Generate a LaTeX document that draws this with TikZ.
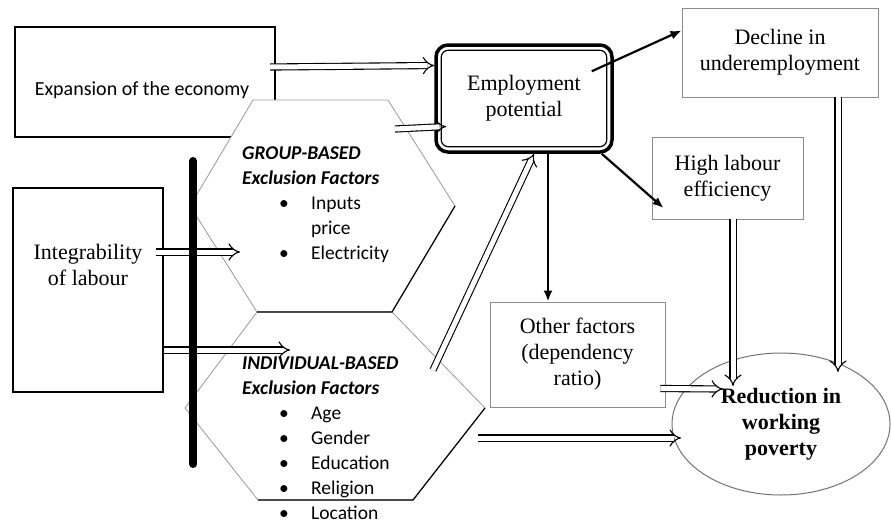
\documentclass[tikz,border=0pt]{standalone}
\usepackage{fontspec}
\setmainfont{Liberation Serif}
\newfontfamily\calibrifont{Carlito}
\usetikzlibrary{arrows.meta,shapes.geometric}

\newcommand{\serifsize}{\fontsize{22}{26}\selectfont}
\newcommand{\hexitem}[1]{\hspace*{37pt}\makebox[32pt][l]{\textbullet}#1}

\begin{document}
\begin{tikzpicture}[x=1pt, y=-1pt,
  thickbox/.style={draw, line width=2.4pt, inner sep=0pt},
  greybox/.style={draw=black!45, line width=0.9pt, font=\serifsize, align=center},
  hexline/.style={draw=black!40, line width=0.8pt, fill=white},
  hextxt/.style={font=\calibrifont\fontsize{19.5}{25}\selectfont, align=left, inner sep=0pt},
  dblarrow/.style={double, double distance=5pt, line width=1.1pt, -{Implies[scale=1.3]}},
  onearrow/.style={line width=2.2pt, -{Latex[length=11pt,width=9pt]}}]
 \useasboundingbox (0,0) rectangle (891,523);
 % boxes on the left
 \node[thickbox, minimum width=260pt, minimum height=110pt,
   label={[name=EXPANDTXT, font=\calibrifont\fontsize{20}{24}\selectfont, yshift=-8pt, xshift=-3pt]center:Expansion of the economy}] (EXPAND) at (145,82) {};
 \node[thickbox, minimum width=150pt, minimum height=204pt,
   label={[name=INTEGTXT, font=\serifsize, align=center, yshift=25pt]center:{Integrability\\of labour}}] (INTEG) at (88,290) {};
 % the two hexagons
 \draw[hexline] (253,100) -- (388,100) -- (455,206) -- (392,312) -- (257,312) -- (190,206) -- cycle;
 \draw[hexline] (257,312) -- (392,312) -- (485,408) -- (413,500) -- (258,500) -- (185,408) -- cycle;
 \draw[line width=1.2pt] (455,206) -- (392,312) -- (257,312);
 \draw[line width=1.2pt] (485,408) -- (413,500) -- (258,500);
 \node[hextxt, anchor=base west] (GROUP) at (242,259) {\textbf{\textit{GROUP-BASED}}\\\textbf{\textit{Exclusion Factors}}\\\hexitem{Inputs}\\\hspace*{69pt}price\\\hexitem{Electricity}};
 \node[hextxt, anchor=base west] (INDIV) at (242,519) {\textbf{\textit{INDIVIDUAL-BASED}}\\\textbf{\textit{Exclusion Factors}}\\\hexitem{Age}\\\hexitem{Gender}\\\hexitem{Education}\\\hexitem{Religion}\\\hexitem{Location}};
 \coordinate (GIN) at (240,252);
 \coordinate (GOUT) at (395,129);
 \coordinate (IIN) at (290,350);
 \coordinate (IUP) at (433,370);
 \coordinate (IRIGHT) at (478,438);
 % outcomes
 \node[draw, line width=3.5pt, rounded corners=12pt, minimum width=176pt, minimum height=107pt, font=\serifsize, align=center] (EMPLOY) at (524,98.5) {Employment\\potential};
 \draw[line width=1.2pt, rounded corners=7pt] ([shift={(7pt,-7pt)}]EMPLOY.north west) rectangle ([shift={(-7pt,7pt)}]EMPLOY.south east);
 \node[greybox, minimum width=196pt, minimum height=89pt] (DECLINE) at (780,52.5) {Decline in\\underemployment};
 \node[greybox, minimum width=151pt, minimum height=82pt] (HIGHLAB) at (727.5,178) {High labour\\efficiency};
 \node[greybox, minimum width=175pt, minimum height=105pt] (OTHER) at (577.5,354.5) {Other factors\\(dependency\\ratio)};
 \node[ellipse, draw=black!55, line width=1pt, minimum width=218pt, minimum height=142pt, font=\serifsize\bfseries, align=center] (REDUCE) at (781,424) {Reduction in\\working\\poverty};
 % arrows
 \draw[dblarrow] ([shift={(-6pt,15pt)}]EXPAND.east) -- ([yshift=33pt]EMPLOY.west);
 \draw[dblarrow] (GOUT) -- ([shift={(12pt,-28pt)}]EMPLOY.west);
 \draw[dblarrow] ([shift={(-8pt,38pt)}]INTEG.east) -- (GIN);
 \draw[dblarrow] ([yshift=-60pt]INTEG.east) -- (IIN);
 \draw[dblarrow] (IUP) -- ([xshift=10pt]EMPLOY.south);
 \draw[onearrow] ([shift={(-22pt,-28pt)}]EMPLOY.north east) -- ([yshift=22pt]DECLINE.west);
 \draw[onearrow] ([xshift=-12pt]EMPLOY.south east) -- ([shift={(12pt,-30pt)}]HIGHLAB.west);
 \draw[onearrow] ([xshift=24pt]EMPLOY.south) -- ([xshift=-29.5pt]OTHER.north);
 \draw[dblarrow] ([xshift=58pt]DECLINE.south) -- ([shift={(57pt,52pt)}]REDUCE.center);
 \draw[dblarrow] ([xshift=5.5pt]HIGHLAB.south) -- ([shift={(-48pt,38pt)}]REDUCE.center);
 \draw[dblarrow] ([shift={(-5pt,-34pt)}]OTHER.east) -- ([shift={(-58pt,35pt)}]REDUCE.center);
 \draw[dblarrow] (IRIGHT) -- ([shift={(-100pt,-14pt)}]REDUCE.center);
 % bar
 \draw[line width=8pt, line cap=round] (193,161) -- (193,464);
\end{tikzpicture}
\end{document}
